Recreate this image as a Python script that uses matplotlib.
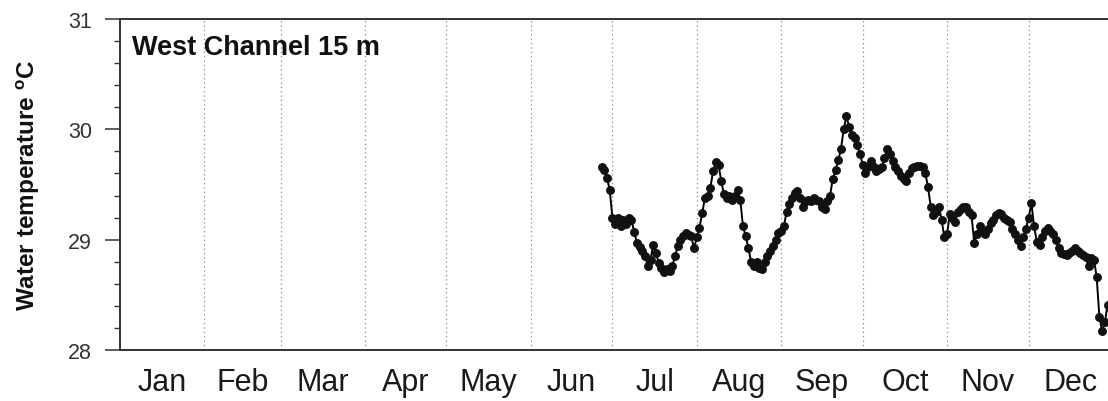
import numpy as np
import matplotlib
matplotlib.use("Agg")
import matplotlib.pyplot as plt
from matplotlib.ticker import FixedLocator, MultipleLocator, NullFormatter, FixedFormatter

plt.rcParams['font.family'] = ['Liberation Sans', 'DejaVu Sans']
plt.rcParams['mathtext.fontset'] = 'custom'
plt.rcParams['mathtext.rm'] = 'Liberation Sans'
plt.rcParams['mathtext.bf'] = 'Liberation Sans:bold'

# ---- data ----
months = ['Jan', 'Feb', 'Mar', 'Apr', 'May', 'Jun', 'Jul', 'Aug', 'Sep', 'Oct', 'Nov', 'Dec']
month_starts = [0, 31, 59, 90, 120, 151, 181, 212, 243, 273, 304, 334, 365]
yticks = [28, 29, 30, 31]
title = 'West Channel 15 m'

start_day = 177  # day of year (0 = 1 Jan) of first observation
temps = [
    29.66, 29.63, 29.56, 29.45, 29.20, 29.14, 29.20, 29.12, 29.18, 29.14,
    29.20, 29.18, 29.07, 28.97, 28.93, 28.90, 28.85, 28.76, 28.82, 28.95,
    28.88, 28.79, 28.74, 28.71, 28.73, 28.72, 28.76, 28.85, 28.94, 29.00,
    29.03, 29.06, 29.04, 29.03, 28.92, 29.02, 29.11, 29.24, 29.38, 29.40,
    29.47, 29.62, 29.70, 29.68, 29.53, 29.41, 29.38, 29.40, 29.36, 29.40,
    29.45, 29.36, 29.12, 29.03, 28.92, 28.80, 28.76, 28.80, 28.74, 28.73,
    28.80, 28.85, 28.90, 28.94, 29.00, 29.06, 29.08, 29.12, 29.25, 29.32,
    29.38, 29.42, 29.44, 29.38, 29.30, 29.35, 29.36, 29.35, 29.38, 29.36,
    29.35, 29.30, 29.28, 29.35, 29.40, 29.55, 29.63, 29.72, 29.82, 30.00,
    30.12, 30.02, 29.95, 29.92, 29.86, 29.78, 29.68, 29.60, 29.66, 29.71,
    29.66, 29.62, 29.64, 29.66, 29.74, 29.82, 29.78, 29.71, 29.66, 29.62,
    29.58, 29.55, 29.53, 29.60, 29.65, 29.66, 29.67, 29.67, 29.66, 29.60,
    29.48, 29.30, 29.22, 29.25, 29.30, 29.18, 29.02, 29.05, 29.23, 29.20,
    29.16, 29.25, 29.28, 29.30, 29.30, 29.25, 29.22, 28.97, 29.05, 29.12,
    29.08, 29.05, 29.10, 29.15, 29.18, 29.22, 29.24, 29.23, 29.20, 29.18,
    29.16, 29.10, 29.05, 29.00, 28.94, 29.02, 29.10, 29.20, 29.33, 29.12,
    28.98, 28.95, 29.02, 29.08, 29.11, 29.08, 29.05, 29.00, 28.92, 28.88,
    28.87, 28.86, 28.88, 28.90, 28.92, 28.90, 28.88, 28.86, 28.84, 28.76,
    28.83, 28.82, 28.66, 28.30, 28.17, 28.25, 28.41, 28.38,
]
days = start_day + np.arange(len(temps))

# ---- figure ----
W, H = 1108, 402
fig = plt.figure(figsize=(W / 100, H / 100), dpi=100)
ax = fig.add_axes([120 / W, 51 / H, 993 / W, 331 / H])

ax.plot(days, temps, color='black', lw=1.4, marker='o', ms=5.4,
        markerfacecolor='#111111', markeredgecolor='#111111', zorder=3)

ax.set_xlim(month_starts[0], month_starts[-1])
ax.set_ylim(28, 31)

# x: gridlines at month boundaries, labels at mid-month
ax.xaxis.set_major_locator(FixedLocator(month_starts[1:-1]))
ax.xaxis.set_major_formatter(NullFormatter())
mids = [(a + b) / 2 for a, b in zip(month_starts[:-1], month_starts[1:])]
ax.xaxis.set_minor_locator(FixedLocator(mids))
ax.xaxis.set_minor_formatter(FixedFormatter(months))
ax.tick_params(axis='x', which='both', length=0)
ax.tick_params(axis='x', which='minor', labelsize=22, pad=12, labelcolor='#1a1a1a')
ax.grid(axis='x', which='major', linestyle=(0, (1, 2.5)), color='#888888', lw=0.9)

# y ticks
ax.yaxis.set_major_locator(FixedLocator(yticks))
ax.yaxis.set_minor_locator(MultipleLocator(0.2))
ax.tick_params(axis='y', which='major', direction='out', length=11, width=1.1,
               labelsize=15.5, pad=9, labelcolor='#333333', color='#333333')
ax.tick_params(axis='y', which='minor', direction='out', length=4.5, width=1.0,
               color='#333333')

for side in ['left', 'bottom', 'top']:
    ax.spines[side].set_linewidth(1.4)
    ax.spines[side].set_color('#333333')
ax.spines['right'].set_visible(False)

ax.text(0.012, (351 - 55) / 331, title, transform=ax.transAxes,
        ha='left', va='baseline', fontsize=19.5, fontweight='bold', color='#111111')

fig.text(28 / W, 1 - 185 / H, r'Water temperature $^{\mathbf{o}}$C',
         rotation=90, ha='center', va='center', fontsize=17.5,
         fontweight='bold', color='#111111')

fig.savefig('out.png', dpi=100)
